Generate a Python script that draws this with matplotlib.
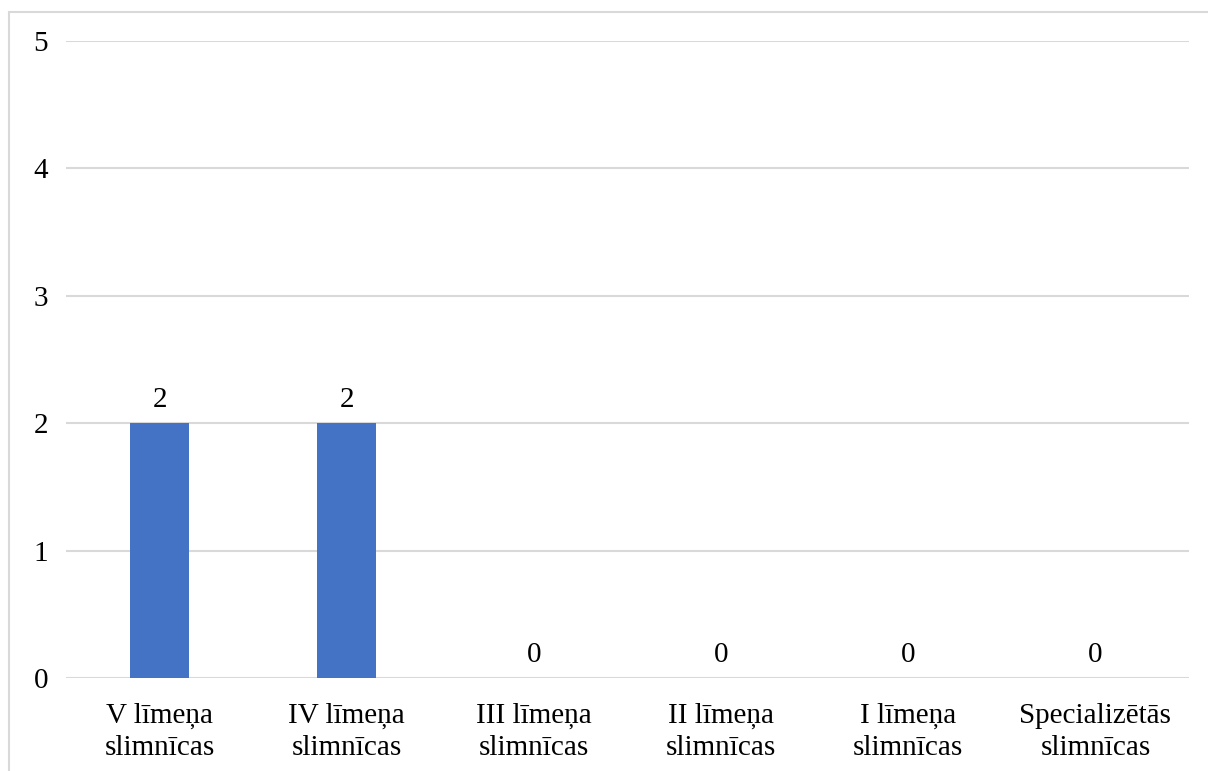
import matplotlib.pyplot as plt
from matplotlib.patches import Rectangle

# Dati
categories = ["V līmeņa\nslimnīcas", "IV līmeņa\nslimnīcas", "III līmeņa\nslimnīcas",
              "II līmeņa\nslimnīcas", "I līmeņa\nslimnīcas", "Specializētās\nslimnīcas"]
values = [2, 2, 0, 0, 0, 0]
y_ticks = [0, 1, 2, 3, 4, 5]

plt.rcParams['font.family'] = ['Liberation Serif', 'DejaVu Serif']

fig = plt.figure(figsize=(12.08, 7.71), dpi=100)
ax = fig.add_axes([66 / 1208, 1 - 678 / 771, (1189 - 66) / 1208, (678 - 41) / 771])

# Rāmis ap diagrammu
fig.patches.append(Rectangle((9 / 1208, -0.1), 1.2, 1 - 12 / 771 + 0.1,
                             transform=fig.transFigure, fill=False,
                             edgecolor="#d9d9d9", linewidth=1.5))

x = range(len(categories))
bars = ax.bar(x, values, width=0.315, color="#4472C4", zorder=3)
for xi, v in zip(x, values):
    ax.text(xi, v + 0.08, str(v), ha="center", va="bottom", fontsize=21)

ax.set_xlim(-0.5, len(categories) - 0.5)
ax.set_ylim(0, 5)
ax.set_yticks(y_ticks)
ax.set_xticks(list(x))
ax.set_xticklabels(categories, fontsize=21, linespacing=1.3)
ax.tick_params(axis="y", labelsize=21, length=0, pad=13)
ax.tick_params(axis="x", length=0, pad=18)
ax.grid(axis="y", color="#d9d9d9", linewidth=1.5, zorder=0)
for s in ax.spines.values():
    s.set_visible(False)

fig.savefig("out.png", dpi=100)
